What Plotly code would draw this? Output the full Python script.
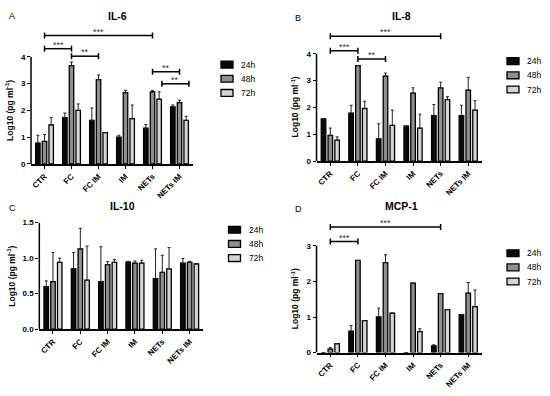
import plotly.graph_objects as go

categories = ["CTR", "FC", "FC IM", "IM", "NETs", "NETs IM"]
times = ["24h", "48h", "72h"]

# IL-6 (log10 pg/ml) mean values and upper error
il6_24 = [0.78, 1.73, 1.63, 1.00, 1.34, 2.13]
il6_48 = [0.84, 3.67, 3.15, 2.66, 2.69, 2.29]
il6_72 = [1.46, 2.00, 1.17, 1.69, 2.42, 1.63]
il6_24_err = [0.29, 0.17, 0.46, 0.07, 0.13, 0.07]
il6_48_err = [0.26, 0.13, 0.17, 0.09, 0.05, 0.09]
il6_72_err = [0.27, 0.24, 0.0, 0.51, 0.27, 0.15]

# IL-8
il8_24 = [1.57, 1.79, 0.83, 1.30, 1.69, 1.69]
il8_48 = [0.96, 3.56, 3.17, 2.53, 2.73, 2.64]
il8_72 = [0.78, 1.96, 1.33, 1.23, 2.29, 1.90]
il8_24_err = [0.0, 0.29, 0.56, 0.0, 0.42, 0.39]
il8_48_err = [0.27, 0.0, 0.11, 0.20, 0.21, 0.48]
il8_72_err = [0.12, 0.27, 0.57, 0.52, 0.11, 0.35]

# IL-10
il10_24 = [0.60, 0.85, 0.67, 0.945, 0.71, 0.93]
il10_48 = [0.67, 1.13, 0.91, 0.93, 0.80, 0.94]
il10_72 = [0.94, 0.69, 0.94, 0.93, 0.85, 0.92]
il10_24_err = [0.08, 0.23, 0.49, 0.01, 0.42, 0.065]
il10_48_err = [0.41, 0.29, 0.04, 0.03, 0.24, 0.015]
il10_72_err = [0.06, 0.48, 0.04, 0.04, 0.30, 0.0]

# MCP-1
mcp1_24 = [0.0, 0.60, 1.00, 0.0, 0.19, 1.07]
mcp1_48 = [0.10, 2.59, 2.53, 1.95, 1.66, 1.67]
mcp1_72 = [0.25, 0.90, 1.11, 0.59, 1.21, 1.29]
mcp1_24_err = [0.0, 0.16, 0.25, 0.0, 0.03, 0.0]
mcp1_48_err = [0.04, 0.0, 0.22, 0.0, 0.0, 0.30]
mcp1_72_err = [0.0, 0.0, 0.0, 0.08, 0.0, 0.47]

# significance brackets: (start category, end category, offset, height, label)
il6_sig = [("CTR", "NETs", 0.0, 4.79, "***"), ("CTR", "FC", 0.0, 4.30, "***"),
           ("FC", "FC IM", 0.0, 4.02, "**"), ("NETs", "NETs IM", 0.0, 3.44, "**"),
           ("NETs", "NETs IM", 0.35, 2.99, "**")]
il8_sig = [("CTR", "NETs", 0.0, 4.65, "***"), ("CTR", "FC", 0.0, 4.11, "***"),
           ("FC", "FC IM", 0.0, 3.81, "**")]
il10_sig = []
mcp1_sig = [("CTR", "NETs", 0.0, 3.53, "***"), ("CTR", "FC", 0.0, 3.12, "***")]

colors = ["#0a0a0a", "#8f8f8f", "#d4d4d4"]
FONT = "Liberation Sans, Arial, sans-serif"

panels = [
    dict(letter="A", title="IL-6", vals=[il6_24, il6_48, il6_72],
         errs=[il6_24_err, il6_48_err, il6_72_err], sig=il6_sig,
         xdom=[0.0564, 0.3509], ydom=[0.5866, 0.9538], yr=[0, 5.3],
         ticks=[0, 1, 2, 3, 4], tfmt="d", leg_x=221, leg_y=62,
         title_xy=(117, 12), letter_xy=(12, 12)),
    dict(letter="B", title="IL-8", vals=[il8_24, il8_48, il8_72],
         errs=[il8_24_err, il8_48_err, il8_72_err], sig=il8_sig,
         xdom=[0.5755, 0.8764], ydom=[0.5942, 0.9614], yr=[0, 5.3],
         ticks=[0, 1, 2, 3, 4], tfmt="d", leg_x=507, leg_y=58.5,
         title_xy=(401, 12), letter_xy=(298, 14)),
    dict(letter="C", title="IL-10", vals=[il10_24, il10_48, il10_72],
         errs=[il10_24_err, il10_48_err, il10_72_err], sig=il10_sig,
         xdom=[0.0715, 0.3696], ydom=[0.1598, 0.4351], yr=[0, 1.5],
         ticks=[0, 0.5, 1.0, 1.5], tfmt=".1f", leg_x=228.5, leg_y=231,
         title_xy=(122, 207), letter_xy=(12, 209)),
    dict(letter="D", title="MCP-1", vals=[mcp1_24, mcp1_48, mcp1_72],
         errs=[mcp1_24_err, mcp1_48_err, mcp1_72_err], sig=mcp1_sig,
         xdom=[0.5755, 0.8764], ydom=[0.0992, 0.4578], yr=[0, 3.9],
         ticks=[0, 1, 2, 3], tfmt="d", leg_x=507, leg_y=255,
         title_xy=(401, 207), letter_xy=(298, 210)),
]

W, H = 550, 396
LEG_STEP = 14.5
fig = go.Figure()
shapes = []
annotations = []
layout_extra = {}

for i, p in enumerate(panels):
    n = "" if i == 0 else str(i + 1)
    xa, ya = "x" + n, "y" + n
    for k in range(3):
        fig.add_trace(go.Bar(
            x=categories, y=p["vals"][k], name=times[k],
            xaxis=xa, yaxis=ya, showlegend=False,
            marker=dict(color=colors[k], line=dict(color="#000000", width=1.3)),
            error_y=dict(type="data", symmetric=False, array=p["errs"][k],
                         arrayminus=[0] * len(categories), color="#222222",
                         thickness=1, width=1.5),
        ))
        # legend entry (swatch + label)
        cy = p["leg_y"] + k * LEG_STEP
        shapes.append(dict(type="rect", xref="paper", yref="paper",
                           x0=p["leg_x"] / W, x1=(p["leg_x"] + 12) / W,
                           y0=1 - (cy + 3.5) / H, y1=1 - (cy - 3.5) / H,
                           fillcolor=colors[k],
                           line=dict(color="#000000", width=1.3)))
        annotations.append(dict(text=times[k], xref="paper", yref="paper",
                                x=(p["leg_x"] + 18) / W, y=1 - cy / H,
                                xanchor="left", yanchor="middle", showarrow=False,
                                font=dict(family=FONT, size=8.5, color="#000000")))
    layout_extra["xaxis" + n] = dict(
        domain=p["xdom"], anchor=ya, type="category", range=[-0.5, 5.5],
        showline=True, linecolor="#000000", linewidth=1.5, ticks="outside",
        ticklen=3, tickwidth=1.2, tickcolor="#000000", tickangle=-45,
        showgrid=False, zeroline=False,
        tickfont=dict(family=FONT, size=8, color="#000000", weight="bold"))
    layout_extra["yaxis" + n] = dict(
        domain=p["ydom"], anchor=xa, range=p["yr"], showline=False,
        showgrid=False, zeroline=False, ticks="outside", ticklen=3,
        tickwidth=1.2, tickcolor="#000000", tickvals=p["ticks"],
        tickformat=p["tfmt"],
        tickfont=dict(family=FONT, size=8, color="#000000", weight="bold"))
    # y axis line
    shapes.append(dict(type="line", xref=xa + " domain", yref=ya,
                       x0=0, x1=0, y0=0, y1=p["ticks"][-1],
                       line=dict(color="#000000", width=1.5)))
    # y axis title
    annotations.append(dict(
        text="Log10 (pg ml<sup>-1</sup>)", textangle=-90,
        xref=xa + " domain", yref=ya, x=0, y=p["ticks"][-1] / 2,
        xanchor="right", yanchor="middle", xshift=-14 if p["tfmt"] == "d" else -20,
        showarrow=False,
        font=dict(family=FONT, size=8.5, color="#000000", weight="bold")))
    # titles & letters
    annotations.append(dict(text=p["title"], xref="paper", yref="paper",
                            x=p["title_xy"][0] / W, y=1 - p["title_xy"][1] / H,
                            xanchor="center", yanchor="middle", showarrow=False,
                            font=dict(family=FONT, size=10.5, color="#000000",
                                      weight="bold")))
    annotations.append(dict(text=p["letter"], xref="paper", yref="paper",
                            x=p["letter_xy"][0] / W, y=1 - p["letter_xy"][1] / H,
                            xanchor="center", yanchor="middle", showarrow=False,
                            font=dict(family=FONT, size=9, color="#000000")))
    # significance brackets
    for (c0, c1, off, h, lab) in p["sig"]:
        x0 = categories.index(c0) + off
        x1 = categories.index(c1) + off
        shapes.append(dict(type="line", xref=xa, yref=ya, x0=x0, x1=x1,
                           y0=h, y1=h, line=dict(color="#000000", width=1.5)))
        for xx in (x0, x1):
            shapes.append(dict(type="line", xref=xa, yref=ya, x0=xx, x1=xx,
                               ysizemode="pixel", yanchor=h, y0=-3, y1=3,
                               line=dict(color="#000000", width=1.5)))
        annotations.append(dict(text=lab, xref=xa, yref=ya, x=(x0 + x1) / 2,
                                y=h, xanchor="center", yanchor="bottom",
                                yshift=-3, showarrow=False,
                                font=dict(family=FONT, size=9, color="#333333")))

fig.update_layout(
    width=W, height=H, margin=dict(l=0, r=0, t=0, b=0),
    paper_bgcolor="#ffffff", plot_bgcolor="#ffffff",
    barmode="group", bargap=0.26, bargroupgap=0.33,
    shapes=shapes, annotations=annotations, showlegend=False,
    font=dict(family=FONT, color="#000000"),
    **layout_extra)

fig.write_html("out.html",
               config={"displayModeBar": False},
               post_script="document.body.style.margin='0';"
                           "document.body.style.overflow='hidden';")
